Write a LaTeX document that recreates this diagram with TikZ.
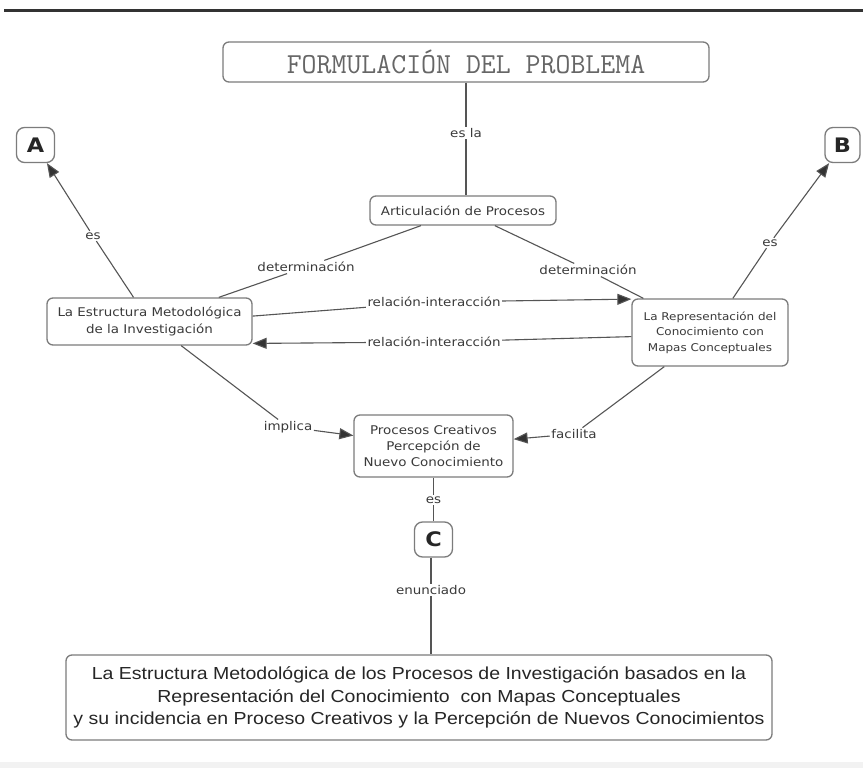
\documentclass[tikz,border=0pt]{standalone}
\usepackage{fontspec}
\usetikzlibrary{arrows.meta}

% Fonts of the concept map
\newfontfamily\cmapsans[FakeStretch=1.12,BoldFont={DejaVu Sans Bold}]{DejaVu Sans}
\newfontfamily\statementfont[FakeStretch=1.12]{Liberation Sans}

\definecolor{linegray}{HTML}{555555}
\definecolor{boxgray}{HTML}{7C7C7C}
\definecolor{txtgray}{HTML}{3A3A3A}
\definecolor{bandgray}{HTML}{F2F2F2}

\tikzset{
  concept/.style={draw=boxgray, line width=1.3pt, rounded corners=6pt, fill=white,
    inner sep=0pt, align=center, text=txtgray,
    font=\cmapsans\fontsize{12}{16}\selectfont},
  letterbox/.style={concept, rounded corners=8pt, minimum width=38pt, minimum height=35pt,
    text=black!85, font=\cmapsans\bfseries\fontsize{20}{20}\selectfont},
  phrase/.style={fill=white, inner sep=1.5pt, text=txtgray,
    font=\cmapsans\fontsize{12}{14}\selectfont},
  link/.style={draw=linegray, line width=1.1pt},
  arrowlink/.style={link, -{Triangle[length=14pt,width=11pt,fill=black!80]}}
}

\begin{document}
\begin{tikzpicture}[x=1pt,y=-1pt]
  % page
  \fill[white] (0,0) rectangle (863,768);
  \useasboundingbox (0,0) rectangle (863,768);
  \fill[bandgray] (0,762) rectangle (863,768);
  \draw[line width=2.6pt, black!80] (4,10.5) -- (863,10.5);

  % concepts
  \node[concept, minimum width=486pt, minimum height=40pt, text=black!60,
        font=\ttfamily\fontsize{29}{29}\selectfont] (title) at (466,62) {FORMULACIÓN DEL PROBLEMA};
  \node[concept, minimum width=186pt, minimum height=29pt] (artic) at (463,210.5) {Articulación de Procesos};
  \node[letterbox] (A) at (35.5,145) {A};
  \node[letterbox, minimum width=35pt] (B) at (842.5,145) {B};
  \node[concept, minimum width=205pt, minimum height=47pt,
        font=\cmapsans\fontsize{12}{17}\selectfont] (estr) at (149.5,321.5)
        {La Estructura Metodológica\\de la Investigación};
  \node[concept, minimum width=156pt, minimum height=67pt,
        font=\cmapsans\fontsize{10.7}{15.5}\selectfont] (repr) at (710,332.5)
        {La Representación del\\Conocimiento con\\Mapas Conceptuales};
  \node[concept, minimum width=159pt, minimum height=62pt] (proc) at (433.5,446)
        {Procesos Creativos\\Percepción de\\Nuevo Conocimiento};
  \node[letterbox] (C) at (433.5,539.5) {C};
  \node[concept, minimum width=706pt, minimum height=85pt, text=black!85,
        font=\statementfont\fontsize{17.4}{22.5}\selectfont] (stmt) at (419,697.5)
        {La Estructura Metodológica de los Procesos de Investigación basados en la\\
         Representación del Conocimiento~ con Mapas Conceptuales\\
         y su incidencia en Proceso Creativos y la Percepción de Nuevos Conocimientos};

  % linking phrases
  \node[phrase] (esla) at (466,133) {es la};
  \node[phrase] (det1) at (306,267) {determinación};
  \node[phrase] (det2) at (588,270) {determinación};
  \node[phrase] (rel1) at (434,302) {relación-interacción};
  \node[phrase] (rel2) at (434,342) {relación-interacción};
  \node[phrase] (esA) at (93,236) {es};
  \node[phrase] (esB) at (770,243) {es};
  \node[phrase] (impl) at (288,427) {implica};
  \node[phrase] (faci) at (574,434) {facilita};
  \node[phrase] (esC) at (433.5,500) {es};
  \node[phrase] (enun) at (431,590) {enunciado};

  % connectors
  \draw[link] (title.south -| esla) -- (esla);
  \draw[link] (esla) -- (artic.north -| esla);
  \draw[link] (artic) -- (det1);
  \draw[link] (det1) -- (estr);
  \draw[link] (artic) -- (det2);
  \draw[link] (det2) -- (repr);
  \draw[link] (estr.3) -- (rel1);
  \draw[arrowlink] (rel1) -- (repr.157);
  \draw[link] (repr.183) -- (rel2);
  \draw[arrowlink] (rel2) -- (estr.-12);
  \draw[link] (estr) -- (esA);
  \draw[arrowlink] (esA) -- (A);
  \draw[link] (repr) -- (esB);
  \draw[arrowlink] (esB) -- (B);
  \draw[link] (estr) -- (impl);
  \draw[arrowlink] (impl) -- (proc);
  \draw[link] (repr) -- (faci);
  \draw[arrowlink] (faci) -- (proc);
  \draw[link] (proc) -- (esC);
  \draw[link] (esC) -- (C);
  \draw[link] (C.south -| enun) -- (enun);
  \draw[link] (enun) -- (stmt.north -| enun);
\end{tikzpicture}
\end{document}
